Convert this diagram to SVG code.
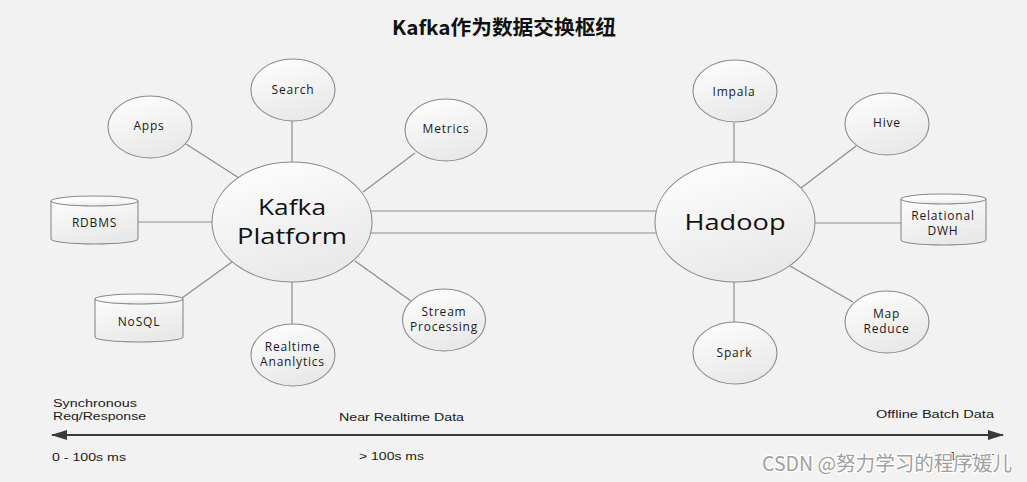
<svg xmlns="http://www.w3.org/2000/svg" width="1027" height="482" viewBox="0 0 1027 482">
<defs>
<linearGradient id="g" x1="0" y1="0" x2="0.4" y2="1">
<stop offset="0" stop-color="#ffffff"/>
<stop offset="1" stop-color="#e9e9e9"/>
</linearGradient>
<marker id="ah" viewBox="0 0 16 10" refX="15" refY="5" markerWidth="16" markerHeight="10" markerUnits="userSpaceOnUse" orient="auto-start-reverse">
<path d="M0,0 L16,5 L0,10 Z" fill="#3a3a3a"/>
</marker>
</defs>
<style>
.n{fill:url(#g);stroke:#8a8a8a;stroke-width:1.1}
.c{stroke:#8c8c8c;stroke-width:1.2;fill:none}
.t{font-family:"Open Sans","Liberation Sans",sans-serif;font-size:12px;letter-spacing:0.8px;fill:#1a1a1a;text-anchor:middle}
.b{font-family:"Open Sans","Liberation Sans",sans-serif;font-size:21px;fill:#111;text-anchor:middle}
.s{font-family:"Liberation Sans",sans-serif;font-size:10px;fill:#1a1a1a}
</style>
<rect width="1027" height="482" fill="#f2f2f2"/>
<text x="392" y="35" font-family="'Noto Sans CJK SC',sans-serif" font-weight="bold" font-size="20" textLength="224" lengthAdjust="spacingAndGlyphs" fill="#111">Kafka作为数据交换枢纽</text>
<g id="connectors">
<line class="c" x1="186" y1="144" x2="239" y2="178"/>
<line class="c" x1="292" y1="121" x2="292" y2="163"/>
<line class="c" x1="415" y1="153" x2="363" y2="192"/>
<line class="c" x1="138" y1="222" x2="212" y2="222"/>
<line class="c" x1="182" y1="298" x2="232" y2="262"/>
<line class="c" x1="292" y1="282" x2="292" y2="324"/>
<line class="c" x1="355" y1="261" x2="411" y2="301"/>
<line class="c" x1="371" y1="211" x2="656" y2="211"/>
<line class="c" x1="371" y1="233" x2="656" y2="233"/>
<line class="c" x1="734" y1="123" x2="734" y2="163"/>
<line class="c" x1="856" y1="146" x2="801" y2="188"/>
<line class="c" x1="815" y1="223" x2="901" y2="223"/>
<line class="c" x1="790" y1="266" x2="853" y2="302"/>
<line class="c" x1="734" y1="282" x2="734" y2="323"/>
<line x1="52" y1="435" x2="1003" y2="435" stroke="#3a3a3a" stroke-width="2" marker-start="url(#ah)" marker-end="url(#ah)"/>
</g>
<g id="kafka"><ellipse class="n" cx="292" cy="222" rx="80" ry="60"/>
<text class="b" x="292" y="215" textLength="68" lengthAdjust="spacingAndGlyphs">Kafka</text>
<text class="b" x="292" y="244" textLength="110" lengthAdjust="spacingAndGlyphs">Platform</text></g>
<g id="search"><ellipse class="n" cx="293" cy="90" rx="42" ry="31"/><text class="t" x="293" y="94">Search</text></g>
<g id="apps"><ellipse class="n" cx="150" cy="127" rx="42" ry="31"/><text class="t" x="149" y="130">Apps</text></g>
<g id="metrics"><ellipse class="n" cx="446" cy="130" rx="41" ry="31"/><text class="t" x="446" y="133">Metrics</text></g>
<g id="rdbms"><path class="n" d="M51,201 A43.5,5 0 0 1 138,201 V239 A43.5,5 0 0 1 51,239 Z"/><path class="n" d="M51,201 A43.5,5 0 0 0 138,201" fill="none"/><text class="t" x="94.5" y="227">RDBMS</text></g>
<g id="nosql"><path class="n" d="M95,299 A44,5 0 0 1 183,299 V337 A44,5 0 0 1 95,337 Z"/><path class="n" d="M95,299 A44,5 0 0 0 183,299" fill="none"/><text class="t" x="139" y="326">NoSQL</text></g>
<g id="realtime"><ellipse class="n" cx="293" cy="355" rx="42" ry="31"/><text class="t" x="292.5" y="350.5">Realtime</text><text class="t" x="292.5" y="366">Ananlytics</text></g>
<g id="stream"><ellipse class="n" cx="444" cy="320" rx="41.5" ry="31"/><text class="t" x="444" y="316">Stream</text><text class="t" x="444" y="331">Processing</text></g>
<g id="hadoop"><ellipse class="n" cx="735" cy="222" rx="80" ry="60"/><text class="b" x="735" y="230" textLength="101" lengthAdjust="spacingAndGlyphs">Hadoop</text></g>
<g id="impala"><ellipse class="n" cx="735" cy="91" rx="42" ry="31"/><text class="t" x="734" y="95.5">Impala</text></g>
<g id="hive"><ellipse class="n" cx="887" cy="124" rx="42" ry="31"/><text class="t" x="887" y="127">Hive</text></g>
<g id="dwh"><path class="n" d="M901,199 A42.5,5 0 0 1 986,199 V240 A42.5,5 0 0 1 901,240 Z"/><path class="n" d="M901,199 A42.5,5 0 0 0 986,199" fill="none"/><text class="t" x="943" y="219.5">Relational</text><text class="t" x="943" y="234.5">DWH</text></g>
<g id="mapreduce"><ellipse class="n" cx="887" cy="322" rx="42" ry="31"/><text class="t" x="886.5" y="317.5">Map</text><text class="t" x="886.5" y="332.5">Reduce</text></g>
<g id="spark"><ellipse class="n" cx="735" cy="353" rx="42" ry="31"/><text class="t" x="734.5" y="357">Spark</text></g>
<g id="scale">
<text class="s" x="53" y="406.5" textLength="84" lengthAdjust="spacingAndGlyphs">Synchronous</text>
<text class="s" x="53" y="419.5" textLength="93" lengthAdjust="spacingAndGlyphs">Req/Response</text>
<text class="s" x="339" y="421" textLength="125" lengthAdjust="spacingAndGlyphs">Near Realtime Data</text>
<text class="s" x="876" y="418" textLength="118" lengthAdjust="spacingAndGlyphs">Offline Batch Data</text>
<text class="s" x="52" y="461" textLength="74" lengthAdjust="spacingAndGlyphs">0 - 100s ms</text>
<text class="s" x="359" y="460" textLength="65" lengthAdjust="spacingAndGlyphs">&gt; 100s ms</text>
<text class="s" x="934" y="460" textLength="60" lengthAdjust="spacingAndGlyphs">&gt; 1 hour</text>
</g>
<text x="762" y="471" font-family="'Noto Sans CJK SC',sans-serif" font-size="20" textLength="250" lengthAdjust="spacingAndGlyphs" fill="#a0a0a0" stroke="#ffffff" stroke-width="2.5" paint-order="stroke">CSDN @努力学习的程序媛儿</text>
</svg>
